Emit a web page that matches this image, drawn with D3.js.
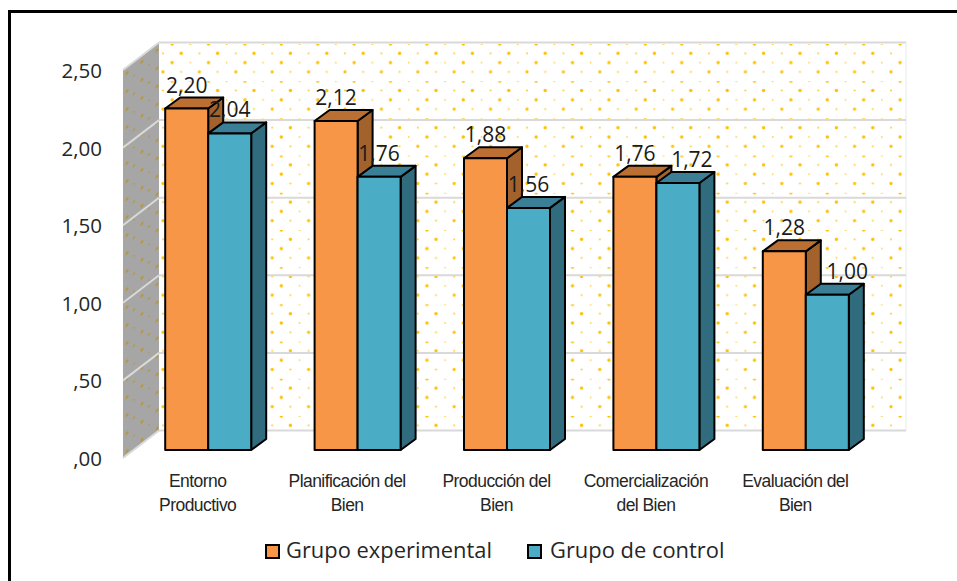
<!DOCTYPE html>
<html><head><meta charset="utf-8">
<script src="https://cdn.jsdelivr.net/npm/d3@7"></script>
<style>html,body{margin:0;padding:0;background:#fff}svg{display:block}</style>
</head><body><svg id="c" width="957" height="581"></svg>
<script>
const categories = [["Entorno","Productivo"],["Planificación del","Bien"],["Producción del","Bien"],["Comercialización","del Bien"],["Evaluación del","Bien"]];
const experimental = [2.20,2.12,1.88,1.76,1.28];
const control = [2.04,1.76,1.56,1.72,1.00];
const seriesNames = ["Grupo experimental","Grupo de control"];
const yTicks = [0,0.5,1,1.5,2,2.5];
const palette = [
 {front:"#F79646",side:"#A3622B",top:"#BC6F33"},
 {front:"#4BACC6",side:"#306C7E",top:"#3A7F96"}];
const fmt = v => v<1 ? ","+d3.format(".2f")(v).split(".")[1] : d3.format(".2f")(v).replace(".",",");

const W=957,H=581;
const svg=d3.select("#c");
const font='"Open Sans",sans-serif';
const wallDX=36, wallDY=-27.5, barDX=15, barDY=-11;
const plotL=123, plotR=870, floorY=458, topY=70;
const x=d3.scaleBand().domain(d3.range(categories.length)).range([plotL,plotR]);
const y=d3.scaleLinear().domain([0,2.5]).range([floorY,topY]);
const insetX=(wallDX-barDX)/2, insetY=-8;
const barW=43;
// hand-moved data labels in the original: control labels of the last two groups
const controlLabelNudge=new Map([[3,14],[4,20]]);

// patterns
const defs=svg.append("defs");
const back=defs.append("pattern").attr("id","dotBack").attr("patternUnits","userSpaceOnUse")
   .attr("width",36.4).attr("height",37.2).attr("x",163).attr("y",44);
[[9.1,0,1.7,1],[27.3,0,1.1,.8],[0,9.3,1.1,.75],[18.2,9.3,1.7,1],[36.4,9.3,1.1,.75],[9.1,18.6,1.7,1],[27.3,18.6,.9,.65],[0,27.9,1.6,.95],[18.2,27.9,1.1,.75],[36.4,27.9,1.6,.95]]
  .forEach(d=>back.append("circle").attr("cx",d[0]).attr("cy",d[1]).attr("r",d[2]).attr("fill","#FFC000").attr("opacity",d[3]));
const wall=defs.append("pattern").attr("id","dotWall").attr("patternUnits","userSpaceOnUse")
   .attr("width",15).attr("height",36).attr("patternTransform","translate(123,70) skewY(-37)");
[[4,6,1.6,.9],[11,14,1,.7],[4,24,1.5,.9],[11,32,1.2,.75]]
  .forEach(d=>wall.append("circle").attr("cx",d[0]).attr("cy",d[1]).attr("r",d[2]).attr("fill","#BC9426").attr("opacity",d[3]));

// frame
svg.append("path").attr("d",`M9.5,${H+5}V11.5H${W+5}`).attr("fill","none").attr("stroke","#000").attr("stroke-width",3);

// back wall
const bx0=plotL+wallDX, bx1=plotR+wallDX;
svg.append("rect").attr("x",bx0).attr("y",topY+wallDY).attr("width",bx1-bx0).attr("height",floorY-topY).attr("fill","#fff");
svg.append("rect").attr("x",bx0).attr("y",topY+wallDY).attr("width",bx1-bx0).attr("height",floorY-topY).attr("fill","url(#dotBack)");
// side wall
const wallPts=[[plotL,topY],[bx0,topY+wallDY],[bx0,floorY+wallDY],[plotL,floorY]];
svg.append("polygon").attr("points",wallPts.join(" ")).attr("fill","#A6A6A6");
svg.append("polygon").attr("points",wallPts.join(" ")).attr("fill","url(#dotWall)");
svg.append("line").attr("x1",bx1).attr("x2",bx1).attr("y1",topY+wallDY).attr("y2",floorY+wallDY).attr("stroke","#f0f0f0").attr("stroke-width",1.5);

// gridlines
yTicks.forEach(t=>{
  const py=y(t);
  svg.append("line").attr("x1",bx0).attr("x2",bx1).attr("y1",py+wallDY).attr("y2",py+wallDY).attr("stroke","#D9D9D9").attr("stroke-width",2);
  svg.append("line").attr("x1",plotL).attr("x2",bx0).attr("y1",py).attr("y2",py+wallDY).attr("stroke","#D9D9D9").attr("stroke-width",2);
});

// axis
const axis=svg.append("g").attr("transform",`translate(${plotL},0)`)
  .call(d3.axisLeft(y).tickValues(yTicks).tickSize(0).tickPadding(21).tickFormat(fmt));
axis.select(".domain").remove();
axis.selectAll("text").attr("font-family",font).attr("font-size",20.5).attr("fill","#262626").attr("dy","0.37em");

// bars
const groupOffset=x.bandwidth()/2+insetX-barW;
const barsG=svg.append("g").attr("stroke","#000").attr("stroke-width",2).attr("stroke-linejoin","round");
categories.forEach((c,i)=>{
  [experimental[i],control[i]].forEach((v,s)=>{
    const x0=x(i)+groupOffset+s*barW, x1=x0+barW;
    const base=y(0)+insetY, top=y(v)+insetY;
    const g=barsG.append("g");
    g.append("polygon").attr("points",[[x1,top],[x1+barDX,top+barDY],[x1+barDX,base+barDY],[x1,base]].join(" ")).attr("fill",palette[s].side);
    g.append("polygon").attr("points",[[x0,top],[x0+barDX,top+barDY],[x1+barDX,top+barDY],[x1,top]].join(" ")).attr("fill",palette[s].top);
    g.append("rect").attr("x",x0).attr("y",top).attr("width",barW).attr("height",base-top).attr("fill",palette[s].front);
  });
});
// value labels
categories.forEach((c,i)=>{
  [experimental[i],control[i]].forEach((v,s)=>{
    const nudge=s===1?(controlLabelNudge.get(i)||0):0;
    const cx=x(i)+groupOffset+s*barW+barW/2+nudge;
    svg.append("text").attr("x",cx).attr("y",y(v)+insetY-16).attr("text-anchor","middle")
      .attr("font-family",font).attr("font-size",21).attr("fill","#1a1a1a").text(fmt(v));
  });
});

// category labels
categories.forEach((c,i)=>{
  const t=svg.append("text").attr("text-anchor","middle").attr("font-family",'"Liberation Sans",sans-serif')
    .attr("font-size",17.5).attr("letter-spacing",-0.55).attr("fill","#262626");
  c.forEach((l,k)=>t.append("tspan").attr("x",x(i)+x.bandwidth()/2).attr("y",487+k*24).text(l));
});

// legend
const legendX=[266,528], legendTextX=[286,550];
seriesNames.forEach((n,s)=>{
  svg.append("rect").attr("x",legendX[s]).attr("y",545).attr("width",13).attr("height",13).attr("fill",palette[s].front).attr("stroke","#000").attr("stroke-width",2);
  svg.append("text").attr("x",legendTextX[s]).attr("y",558).attr("font-family",font).attr("font-size",21.9).attr("fill","#262626").text(n);
});
</script></body></html>
